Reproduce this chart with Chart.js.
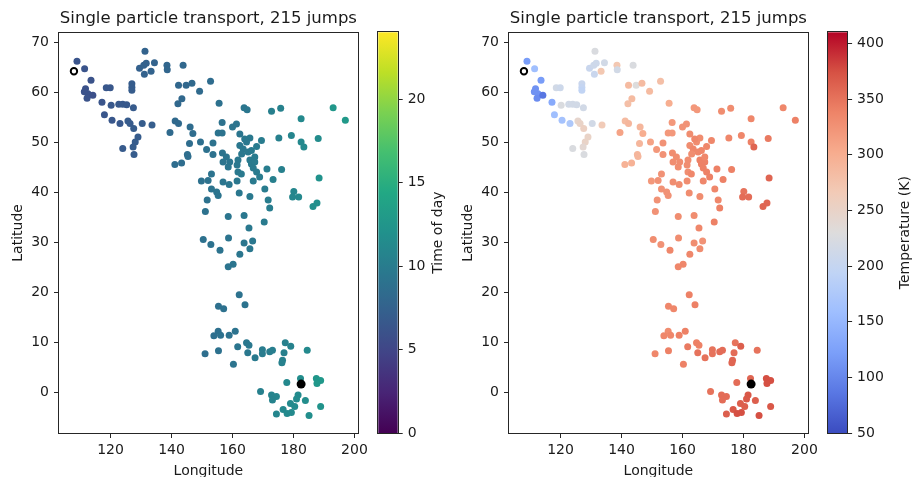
<!DOCTYPE html>
<html>
<head>
<meta charset="utf-8">
<title>Single particle transport</title>
<script src="https://cdn.jsdelivr.net/npm/chart.js@4.4.1/dist/chart.umd.min.js"></script>
<style>
  html, body { margin: 0; padding: 0; background: #fff; overflow: hidden; width: 915px; height: 477px; }
  canvas { position: absolute; top: 0; }
</style>
</head>
<body>
<canvas id="mapTime" width="372" height="490" style="left:0px"></canvas>
<canvas id="barTime" width="90" height="490" style="left:370px"></canvas>
<canvas id="mapTemp" width="372" height="490" style="left:450px"></canvas>
<canvas id="barTemp" width="95" height="490" style="left:820px"></canvas>
<script>
// ---- data ----
const startPoint = [108.0, 64.3];
const endPoint = [182.5, 1.6];

const lon = [
  // north-west start
  109.0,111.5,113.6,111.8,112.6,112.3,114.2,111.4,117.2,118.0,120.5,123.1,118.6,119.9,120.2,122.7,124.0,125.3,127.5,125.7,
  126.4,127.6,130.4,133.6,129.0,128.1,127.4,124.0,127.7,127.0,127.0,127.0,131.3,129.5,130.9,131.7,134.4,133.3,131.1,138.5,
  138.6,143.8,142.3,144.8,146.7,149.2,152.8,143.4,142.1,141.2,142.3,139.5,146.1,147.0,145.9,149.5,145.2,145.4,143.3,141.1,
  // central cluster
  155.6,156.6,160.0,161.3,155.3,156.6,162.4,163.8,164.8,153.6,151.5,153.6,156.7,158.0,156.9,159.1,158.6,165.7,164.6,164.0,
  162.4,163.5,165.1,163.0,166.2,167.9,169.5,161.8,161.5,165.7,166.2,167.3,167.3,166.8,161.8,162.9,167.9,168.9,171.3,176.1,
  173.3,153.1,152.0,149.8,156.9,158.9,161.5,166.8,153.1,154.8,155.3,162.2,165.7,170.6,171.7,172.2,151.7,151.1,158.6,163.8,
  165.4,170.4,150.4,152.9,155.9,158.7,163.8,166.6,165.7,162.4,160.2,158.6,
  // east
  172.8,175.8,182.5,193.0,197.0,175.2,179.3,182.5,183.4,188.1,188.4,180.1,179.7,181.7,186.4,187.7,
  // south
  162.2,164.1,155.4,157.1,155.3,153.9,156.1,160.9,158.9,151.0,155.4,160.3,161.7,164.6,165.4,165.0,167.4,169.8,169.8,172.2,
  173.1,177.3,179.1,176.9,176.4,176.2,184.5,
  // end cluster
  182.3,177.8,187.5,188.9,187.7,169.2,172.8,174.4,173.1,181.5,181.0,183.9,179.0,176.6,180.4,177.9,179.3,174.4,185.1,188.9
];
const lat = [
  66.3,64.8,62.5,60.8,59.8,58.9,59.5,60.2,58.1,55.6,54.5,53.8,61.0,61.0,57.5,57.7,57.7,57.6,57.0,54.3,
  53.8,52.8,53.8,53.5,51.1,50.1,49.1,48.8,47.6,61.8,61.1,60.5,68.3,64.9,65.5,65.9,66.0,64.3,63.7,65.5,
  64.6,65.5,61.5,61.5,61.9,60.3,62.3,58.8,57.8,54.3,53.8,52.0,53.1,51.8,49.8,50.1,47.6,47.2,45.9,45.6,
  57.9,54.0,53.1,53.7,51.9,51.9,51.7,57.0,56.6,49.9,48.6,47.6,47.9,47.1,46.1,46.1,45.1,50.9,50.1,50.7,
  49.4,48.7,48.1,47.7,48.4,49.2,50.4,46.5,45.5,46.5,45.7,46.1,47.1,44.9,44.1,43.7,44.1,43.1,44.7,44.6,
  42.6,43.7,42.4,42.3,42.1,41.6,42.3,42.3,40.7,40.1,39.4,39.9,39.2,40.7,38.5,36.9,38.5,36.2,35.2,35.4,
  32.9,34.1,30.6,29.6,28.4,30.9,29.9,30.3,28.7,27.6,25.6,25.1,
  56.3,56.9,54.8,57.0,54.5,50.9,51.4,50.1,49.1,50.8,42.9,40.2,39.1,39.1,37.2,37.9,
  19.5,17.5,17.2,16.7,12.2,11.3,11.4,12.2,11.4,7.7,8.3,5.6,9.1,9.9,9.4,7.9,6.9,8.5,7.7,8.1,
  8.4,9.9,9.2,7.9,6.4,5.9,8.4,
  2.7,1.9,2.7,2.3,1.7,0.1,-0.6,-0.9,-1.6,-0.6,-1.4,-1.7,-2.3,-3.5,-2.9,-4.3,-4.1,-4.4,-4.7,-2.9
];
const timeOfDay = [
  6.2,6.2,6.1,6.0,6.0,6.1,5.9,6.0,6.3,6.4,6.5,6.6,6.5,6.5,6.6,6.7,6.7,6.7,6.8,6.8,
  6.8,6.9,7.0,7.1,6.9,6.9,6.9,6.8,6.9,6.9,6.9,6.9,7.6,7.4,7.5,7.5,7.6,7.6,7.5,7.9,
  7.9,8.1,8.0,8.1,8.2,8.3,8.4,8.1,8.1,8.2,8.2,8.3,8.4,8.5,8.5,8.7,8.6,8.6,8.5,8.5,
  8.9,9.0,9.2,9.2,9.1,9.1,9.3,9.4,9.4,9.0,8.9,9.0,9.1,9.2,9.2,9.3,9.3,9.7,9.6,9.6,
  9.5,9.6,9.7,9.6,9.8,9.9,10.0,9.5,9.5,9.8,9.8,9.9,9.9,9.8,9.6,9.7,9.9,10.0,10.1,10.4,
  10.3,9.1,9.0,8.9,9.3,9.4,9.5,9.8,9.1,9.2,9.2,9.5,9.7,10.0,10.1,10.1,9.0,9.0,9.3,9.5,
  9.6,9.9,8.9,9.0,9.1,9.2,9.4,9.5,9.5,9.4,9.3,9.2,
  10.3,10.5,11.2,12.6,12.8,10.4,10.8,11.1,11.2,11.5,12.1,10.9,10.9,11.1,11.8,11.8,
  9.0,9.1,8.8,8.9,8.8,8.7,8.9,9.1,9.0,8.7,8.9,9.2,9.3,9.5,9.6,9.6,9.8,10.0,10.0,10.1,
  10.2,10.4,10.6,10.4,10.5,10.5,11.2,
  11.6,11.1,12.5,12.7,12.6,10.4,10.7,10.8,10.7,11.4,11.4,11.6,11.3,11.1,11.4,11.2,11.3,10.9,11.7,12.2
];
const temperature = [
  120,160,120,110,110,105,85,110,135,160,165,175,215,210,225,215,215,215,215,245,
  250,255,215,265,250,250,240,225,225,205,200,195,225,205,210,210,215,270,205,270,
  215,225,285,230,285,285,280,285,280,285,290,310,290,300,290,310,290,290,295,295,
  300,320,325,325,320,320,330,320,320,325,320,325,330,330,330,330,330,330,330,335,
  330,335,335,330,335,335,335,330,330,340,340,340,335,340,330,335,340,340,340,340,
  340,325,325,320,330,330,330,335,325,325,325,330,330,335,335,340,325,325,330,330,
  335,340,330,325,335,330,330,325,330,335,335,335,
  330,330,335,335,340,335,335,340,360,345,360,350,355,355,360,360,
  340,340,335,335,330,335,335,340,340,335,340,340,345,340,340,350,350,350,350,355,
  355,350,365,355,360,360,350,
  360,355,375,375,375,350,355,355,355,370,370,365,365,370,365,375,375,365,375,370
];

const lonTicks = [120, 140, 160, 180, 200];
const latTicks = [0, 10, 20, 30, 40, 50, 60, 70];
const timeTicks = [0, 5, 10, 15, 20];
const tempTicks = [50, 100, 150, 200, 250, 300, 350, 400];
const timeRange = [0, 24];
const tempRange = [50, 410];

// ---- colour maps ----
const viridisStops = ['#440154','#482475','#414487','#355f8d','#2a788e','#21918c','#22a884','#44bf70','#7ad151','#bddf26','#fde725'];
const coolwarmStops = ['#3b4cc0','#5977e3','#7b9ff9','#9ebeff','#c0d4f5','#dddcdc','#f2cbb7','#f7ac8e','#ee8468','#d65244','#b40426'];

function hexRgb(h){ return [1, 3, 5].map(i => parseInt(h.slice(i, i + 2), 16)); }
function cmap(stops, f){
  f = Math.min(1, Math.max(0, f)) * (stops.length - 1);
  const i = Math.min(stops.length - 2, Math.floor(f)), t = f - i;
  const a = hexRgb(stops[i]), b = hexRgb(stops[i + 1]);
  const c = a.map((v, k) => Math.round(v + (b[k] - v) * t));
  return `rgb(${c[0]},${c[1]},${c[2]})`;
}

Chart.defaults.font.family = "'DejaVu Sans', sans-serif";
Chart.defaults.font.size = 14;
Chart.defaults.color = '#1a1a1a';

const ink = '#262626';
const axisGrid = { display: true, drawOnChartArea: false, drawTicks: true, tickLength: 5, tickWidth: 1, tickColor: ink };

// box round the plot area (matplotlib spines)
const frame = {
  id: 'frame',
  afterDraw(chart){
    const { ctx, chartArea: a } = chart;
    ctx.save();
    ctx.strokeStyle = ink;
    ctx.lineWidth = 1;
    ctx.strokeRect(Math.round(a.left) - 0.5, Math.round(a.top) - 0.5, Math.round(a.right) - Math.round(a.left) + 1, Math.round(a.bottom) - Math.round(a.top) + 1);
    ctx.restore();
  }
};

// colour ramp filling the colorbar, laid out by its own y scale
const colorbarFill = {
  id: 'colorbarFill',
  beforeDatasetsDraw(chart, args, opts){
    const { ctx, chartArea: a, scales: { y } } = chart;
    const g = ctx.createLinearGradient(0, y.getPixelForValue(y.min), 0, y.getPixelForValue(y.max));
    opts.stops.forEach((c, i, arr) => g.addColorStop(i / (arr.length - 1), c));
    ctx.save();
    ctx.fillStyle = g;
    ctx.fillRect(a.left, a.top, a.width, a.height);
    ctx.restore();
  }
};

// colorbar label, reading bottom to top
const sideLabel = {
  id: 'sideLabel',
  afterDraw(chart, args, opts){
    const { ctx, chartArea: a } = chart;
    ctx.save();
    ctx.translate(opts.x, (a.top + a.bottom) / 2);
    ctx.rotate(-Math.PI / 2);
    ctx.font = "14px 'DejaVu Sans', sans-serif";
    ctx.fillStyle = '#1a1a1a';
    ctx.textAlign = 'center';
    ctx.textBaseline = 'middle';
    ctx.fillText(opts.text, 0, 0);
    ctx.restore();
  }
};

function makeMap(id, colors){
  const pts = lon.map((x, i) => ({ x, y: lat[i] }));
  new Chart(document.getElementById(id), {
    type: 'scatter',
    data: {
      datasets: [
        { data: [{ x: startPoint[0], y: startPoint[1] }], pointRadius: 3.2, pointBorderWidth: 2, pointBackgroundColor: '#fff', pointBorderColor: '#000' },
        { data: [{ x: endPoint[0], y: endPoint[1] }], pointRadius: 4.5, pointBorderWidth: 0, pointBackgroundColor: '#000' },
        { data: pts, pointRadius: 3.5, pointBorderWidth: 0, pointBackgroundColor: colors }
      ]
    },
    options: {
      responsive: false, animation: false, events: [],
      layout: { padding: { left: 0, right: 13, top: 0, bottom: 0 } },
      plugins: {
        legend: { display: false },
        tooltip: { enabled: false },
        title: {
          display: true, fullSize: false,
          text: 'Single particle transport, 215 jumps',
          font: { size: 16.5, weight: 'normal' }, color: '#1a1a1a',
          padding: { top: 9, bottom: 4 }
        }
      },
      scales: {
        x: {
          type: 'linear', min: 103.1, max: 201.1,
          afterBuildTicks: s => { s.ticks = lonTicks.map(v => ({ value: v })); },
          afterFit: s => { s.height = 57; },
          grid: axisGrid, border: { display: false },
          ticks: { padding: 4, maxRotation: 0, autoSkip: false },
          title: { display: true, text: 'Longitude', padding: { top: 0, bottom: 10.6 } }
        },
        y: {
          type: 'linear', min: -8.2, max: 72,
          afterBuildTicks: s => { s.ticks = latTicks.map(v => ({ value: v })); },
          afterFit: s => { s.width = 59; },
          grid: axisGrid, border: { display: false },
          ticks: { padding: 5, autoSkip: false },
          title: { display: true, text: 'Latitude', padding: { top: 9.6, bottom: 0 } }
        }
      }
    },
    plugins: [frame]
  });
}

function makeBar(id, range, tickVals, stops, label, labelX, padLeft){
  const el = document.getElementById(id);
  new Chart(el, {
    type: 'scatter',
    data: { datasets: [{ data: [] }] },
    options: {
      responsive: false, animation: false, events: [],
      layout: { padding: { left: padLeft, right: 0, top: 32.3, bottom: 57 } },
      plugins: {
        legend: { display: false },
        tooltip: { enabled: false },
        colorbarFill: { stops },
        sideLabel: { text: label, x: labelX }
      },
      scales: {
        x: { type: 'linear', display: false, min: 0, max: 1 },
        y: {
          type: 'linear', position: 'right', min: range[0], max: range[1],
          afterBuildTicks: s => { s.ticks = tickVals.map(v => ({ value: v })); },
          afterFit: s => { s.width = el.width - padLeft - 19.4; },
          grid: axisGrid, border: { display: false },
          ticks: { padding: 5, autoSkip: false }
        }
      }
    },
    plugins: [colorbarFill, frame, sideLabel]
  });
}

makeMap('mapTime', timeOfDay.map(t => cmap(viridisStops, (t - timeRange[0]) / (timeRange[1] - timeRange[0]))));
makeMap('mapTemp', temperature.map(T => cmap(coolwarmStops, (T - tempRange[0]) / (tempRange[1] - tempRange[0]))));
makeBar('barTime', timeRange, timeTicks, viridisStops, 'Time of day', 68, 8.3);
makeBar('barTemp', tempRange, tempTicks, coolwarmStops, 'Temperature (K)', 85, 7.7);
</script>
</body>
</html>
